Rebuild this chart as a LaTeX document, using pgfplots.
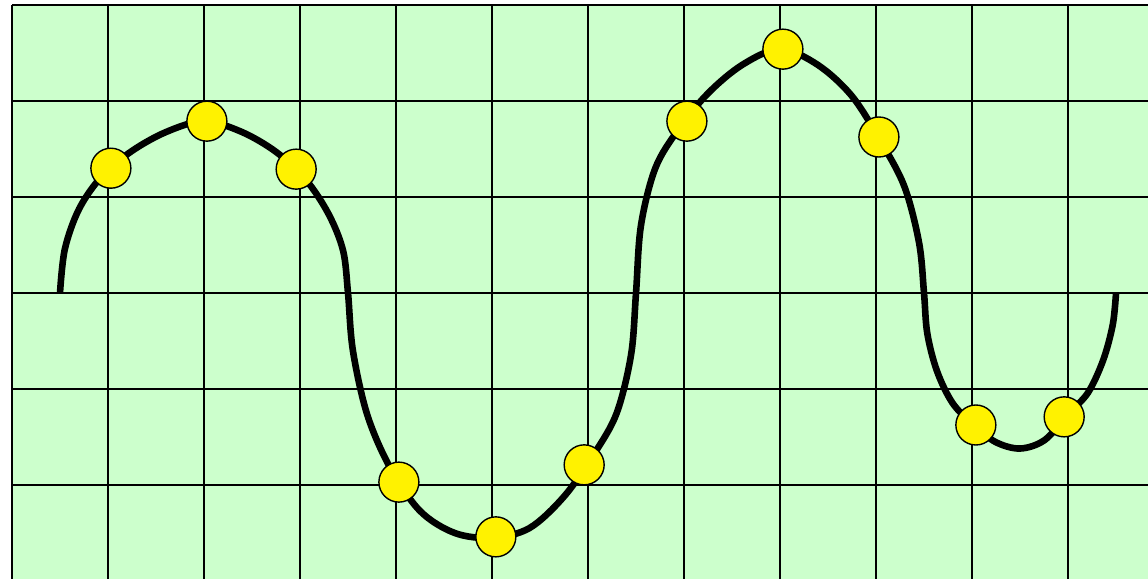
\documentclass[border=0pt]{standalone}
\usepackage{pgfplots}
\pgfplotsset{compat=1.18}
\definecolor{bg}{HTML}{CCFFCC}
\begin{document}
\begin{tikzpicture}
\begin{axis}[
  x=48pt, y=48pt,
  xmin=0, xmax=11.8333, ymin=-2.979, ymax=3,
  axis background/.style={fill=bg},
  axis line style={draw=none},
  xtick={0,1,...,11}, ytick={-2,-1,...,3},
  xticklabels={}, yticklabels={},
  major tick length=0pt,
  grid=major,
  grid style={black, line width=1pt, solid},
]
\addplot[black, line width=3.3pt, smooth, tension=0.55] coordinates {
(0.5,0) (0.551,0.46) (0.701,0.88) (0.939,1.22) (1.25,1.48) (1.612,1.68) (2.0,1.79)
(2.388,1.68) (2.75,1.47) (3.061,1.18) (3.299,0.82) (3.449,0.44)
(3.5,0)
(3.551,-0.60) (3.701,-1.27) (3.939,-1.82) (4.25,-2.27) (4.612,-2.50) (5.0,-2.55)
(5.388,-2.45) (5.75,-2.12) (6.061,-1.68) (6.299,-1.25) (6.449,-0.64)
(6.5,0)
(6.551,0.70) (6.701,1.30) (6.939,1.70) (7.25,2.08) (7.612,2.38) (8.0,2.54)
(8.388,2.38) (8.75,2.05) (9.061,1.56) (9.299,1.10) (9.449,0.52)
(9.5,0)
(9.534,-0.42) (9.634,-0.81) (9.793,-1.14) (10.0,-1.36) (10.241,-1.55) (10.5,-1.62)
(10.759,-1.53) (11.0,-1.26) (11.207,-1.04) (11.366,-0.70) (11.466,-0.33)
(11.5,0)
};
\addplot[only marks, mark=*, mark size=10pt,
  mark options={fill=yellow, draw=black, line width=0.7pt}] coordinates {
(1.03,1.30) (2.03,1.79) (2.96,1.29) (4.03,-1.97) (5.04,-2.54) (5.96,-1.79)
(7.03,1.79) (8.03,2.54) (9.03,1.625) (10.04,-1.375) (10.96,-1.29)
};
\coordinate (SW) at (rel axis cs:0,0);
\coordinate (NE) at (rel axis cs:1,1);
\end{axis}
\pgfresetboundingbox
\path ([xshift=-6pt]SW) rectangle ([yshift=2.5pt]NE);
\end{tikzpicture}
\end{document}
